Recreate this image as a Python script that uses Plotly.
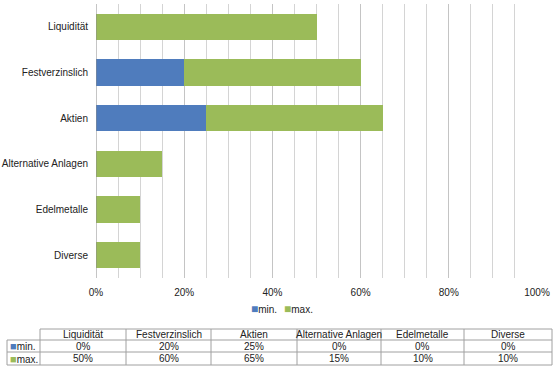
import plotly.graph_objects as go

categories = ["Liquidität", "Festverzinslich", "Aktien", "Alternative Anlagen", "Edelmetalle", "Diverse"]
min_vals = [0, 20, 25, 0, 0, 0]
max_vals = [50, 60, 65, 15, 10, 10]
tick_vals = [0, 20, 40, 60, 80, 100]
tick_text = ["0%", "20%", "40%", "60%", "80%", "100%"]

BLUE = "#4F7CBD"
GREEN = "#9BBB59"
FONT = "Liberation Sans, Arial, sans-serif"
TXT = "#222222"

W, H = 555, 390
L, R, T, B = 96, 18, 4, 112
PW = W - L - R
PH = H - T - B

def px(x):
    return (x - L) / PW

def py(y):
    return (H - B - y) / PH

diff_vals = [mx - mn for mn, mx in zip(min_vals, max_vals)]

fig = go.Figure()
fig.add_trace(go.Bar(y=categories, x=min_vals, orientation="h", name="min.",
                     marker=dict(color=BLUE, line=dict(width=0)), showlegend=False))
fig.add_trace(go.Bar(y=categories, x=diff_vals, orientation="h", name="max.",
                     marker=dict(color=GREEN, line=dict(width=0)), showlegend=False))

fig.update_layout(
    width=W, height=H,
    margin=dict(l=L, r=R, t=T, b=B, pad=0, autoexpand=False),
    paper_bgcolor="white", plot_bgcolor="white",
    barmode="stack", bargap=0.43,
    font=dict(family=FONT, size=10, color=TXT),
    xaxis=dict(range=[0, 100], tickvals=tick_vals, ticktext=tick_text,
               showgrid=True, gridcolor="#C4C4C4", gridwidth=1,
               minor=dict(dtick=5, showgrid=True, gridcolor="#D4D4D4", gridwidth=1),
               zeroline=False, showline=False, ticks="", ticklen=0, automargin=False,
               ticklabelstandoff=7,
               tickfont=dict(size=10, color=TXT), fixedrange=True),
    yaxis=dict(categoryorder="array", categoryarray=categories[::-1],
               showgrid=False, zeroline=False, showline=False, ticks="",
               ticklabelstandoff=7, automargin=False,
               tickfont=dict(size=10, color=TXT), fixedrange=True),
)

shapes = []
# axis line at 0%
shapes.append(dict(type="line", xref="x", yref="paper", x0=0, x1=0, y0=0, y1=1,
                   line=dict(color="#8C8C8C", width=1)))

def swatch(color, size):
    return f"<span style='color:{color};font-size:{size}px'>■</span>"

# Legend (annotations)
annots = []
annots.append(dict(x=px(249), y=py(309), xref="paper", yref="paper", xanchor="left", yanchor="middle",
                   showarrow=False, text=swatch(BLUE, 12) + "min.",
                   font=dict(size=10, color=TXT, family=FONT)))
annots.append(dict(x=px(282), y=py(309), xref="paper", yref="paper", xanchor="left", yanchor="middle",
                   showarrow=False, text=swatch(GREEN, 12) + "max.",
                   font=dict(size=10, color=TXT, family=FONT)))

# Data table
col_edges = [40, 126, 211, 297, 381, 464, 552]
row_edges = [329, 340, 352, 365]
left_x = 7
bc = "#A0A0A0"
# horizontal lines
shapes.append(dict(type="line", xref="paper", yref="paper", x0=px(col_edges[0]), x1=px(col_edges[-1]),
                   y0=py(row_edges[0]), y1=py(row_edges[0]), line=dict(color=bc, width=1)))
for ry in row_edges[1:]:
    shapes.append(dict(type="line", xref="paper", yref="paper", x0=px(left_x), x1=px(col_edges[-1]),
                       y0=py(ry), y1=py(ry), line=dict(color=bc, width=1)))
# vertical lines
shapes.append(dict(type="line", xref="paper", yref="paper", x0=px(left_x), x1=px(left_x),
                   y0=py(row_edges[1]), y1=py(row_edges[-1]), line=dict(color=bc, width=1)))
for cx in col_edges:
    shapes.append(dict(type="line", xref="paper", yref="paper", x0=px(cx), x1=px(cx),
                       y0=py(row_edges[0]), y1=py(row_edges[-1]), line=dict(color=bc, width=1)))

def row_mid(i):
    return (row_edges[i] + row_edges[i + 1]) / 2

for j, cat in enumerate(categories):
    cxm = (col_edges[j] + col_edges[j + 1]) / 2
    annots.append(dict(x=px(cxm), y=py(row_mid(0)), xref="paper", yref="paper",
                       xanchor="center", yanchor="middle", showarrow=False, text=cat,
                       font=dict(size=10, color=TXT, family=FONT)))
    annots.append(dict(x=px(cxm), y=py(row_mid(1)), xref="paper", yref="paper",
                       xanchor="center", yanchor="middle", showarrow=False, text=f"{min_vals[j]}%",
                       font=dict(size=10, color=TXT, family=FONT)))
    annots.append(dict(x=px(cxm), y=py(row_mid(2)), xref="paper", yref="paper",
                       xanchor="center", yanchor="middle", showarrow=False, text=f"{max_vals[j]}%",
                       font=dict(size=10, color=TXT, family=FONT)))

annots.append(dict(x=px(left_x + 1), y=py(row_mid(1)), xref="paper", yref="paper",
                   xanchor="left", yanchor="middle", showarrow=False,
                   text=swatch(BLUE, 11) + "min.",
                   font=dict(size=10, color=TXT, family=FONT)))
annots.append(dict(x=px(left_x + 1), y=py(row_mid(2)), xref="paper", yref="paper",
                   xanchor="left", yanchor="middle", showarrow=False,
                   text=swatch(GREEN, 11) + "max.",
                   font=dict(size=10, color=TXT, family=FONT)))

fig.update_layout(shapes=shapes, annotations=annots)
fig.write_html("out.html", config={"displayModeBar": False},
               post_script="document.body.style.margin='0';document.body.style.padding='0';document.body.style.overflow='hidden';")
